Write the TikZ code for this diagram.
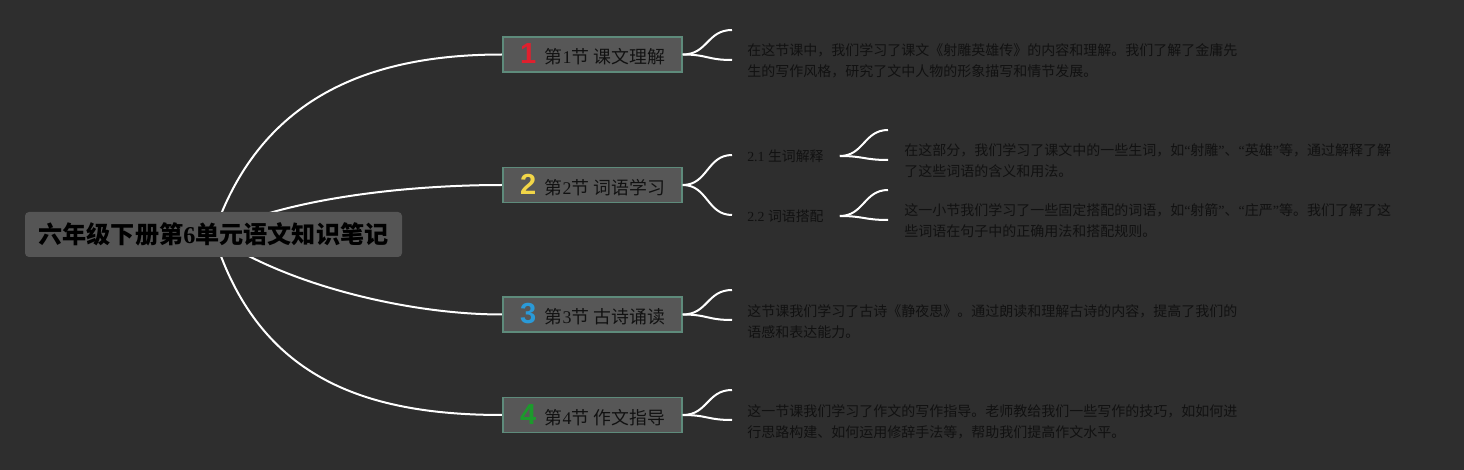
\documentclass[tikz,border=0pt]{standalone}
\usepackage{fontspec}
\setmainfont{Liberation Serif}
\newfontfamily\cjk{Noto Sans CJK SC}
\newfontfamily\numfont{Liberation Sans}
\definecolor{bgc}{HTML}{2E2E2E}
\definecolor{boxfill}{HTML}{575757}
\definecolor{boxedge}{HTML}{5E8B7B}
\definecolor{rootfill}{HTML}{555555}
\definecolor{txt}{HTML}{111111}
\definecolor{nred}{HTML}{E0202E}
\definecolor{nyellow}{HTML}{F2D648}
\definecolor{nblue}{HTML}{2A9AD8}
\definecolor{ngreen}{HTML}{1C9A2C}
\pgfdeclarelayer{back}
\pgfsetlayers{back,main}
\tikzset{
  rootbox/.style={fill=rootfill, rounded corners=3pt, minimum width=282.75pt, minimum height=33.75pt, inner sep=0pt, text=black, font=\fontsize{18.1}{22}\selectfont\bfseries},
  secbox/.style={fill=boxfill, draw=boxedge, line width=1.1pt, minimum width=134.25pt, minimum height=26.25pt, inner sep=0pt, text=txt, font=\fontsize{13.4}{15}\selectfont},
  desc/.style={anchor=west, inner sep=0pt, align=left, text=txt, font=\cjk\fontsize{10.5}{15.75}\selectfont},
  sublab/.style={anchor=west, inner sep=0pt, text=txt, font=\fontsize{10.4}{13}\selectfont},
  conn/.style={draw=white, line width=1.5pt},
}
\newcommand{\bignum}[2]{{\numfont\bfseries\fontsize{21.75}{22}\selectfont\color{#1}#2}\hspace{6.5pt}}
\newcommand{\oq}{{\rmfamily “}}
\newcommand{\cq}{{\rmfamily ”}}
\begin{document}
\begin{tikzpicture}[x=0.75pt,y=-0.75pt]
\begin{pgfonlayer}{back}
\fill[bgc] (0,0) rectangle (1464,470);
\end{pgfonlayer}
\useasboundingbox (0,0) rectangle (1464,470);

% root
\node[rootbox] (root) at (213.5,234.5) {{\cjk\bfseries 六年级下册第}6{\cjk\bfseries 单元语文知识笔记}};

% sections
\node[secbox] (s1) at (592.5,54.5) {\bignum{nred}{1}{\cjk 第}1{\cjk 节 课文理解}};
\node[secbox] (s2) at (592.5,185) {\bignum{nyellow}{2}{\cjk 第}2{\cjk 节 词语学习}};
\node[secbox] (s3) at (592.5,314.5) {\bignum{nblue}{3}{\cjk 第}3{\cjk 节 古诗诵读}};
\node[secbox] (s4) at (592.5,415) {\bignum{ngreen}{4}{\cjk 第}4{\cjk 节 作文指导}};

% descriptions
\node[desc] (d1) at (747,60.5) {在这节课中，我们学习了课文《射雕英雄传》的内容和理解。我们了解了金庸先\\生的写作风格，研究了文中人物的形象描写和情节发展。};
\node[sublab] (sub1) at (747,156) {2.1 {\cjk 生词解释}};
\node[sublab] (sub2) at (747,216) {2.2 {\cjk 词语搭配}};
\node[desc] (d21) at (904,161) {在这部分，我们学习了课文中的一些生词，如\oq 射雕\cq、\oq 英雄\cq 等，通过解释了解\\了这些词语的含义和用法。};
\node[desc] (d22) at (904,221) {这一小节我们学习了一些固定搭配的词语，如\oq 射箭\cq、\oq 庄严\cq 等。我们了解了这\\些词语在句子中的正确用法和搭配规则。};
\node[desc] (d3) at (747,321.5) {这节课我们学习了古诗《静夜思》。通过朗读和理解古诗的内容，提高了我们的\\语感和表达能力。};
\node[desc] (d4) at (747,421.5) {这一节课我们学习了作文的写作指导。老师教给我们一些写作的技巧，如如何进\\行思路构建、如何运用修辞手法等，帮助我们提高作文水平。};

% fork ends
\coordinate (e1a) at (732,30);
\coordinate (e1b) at (732,60);
\coordinate (e2a) at (732,155);
\coordinate (e2b) at (732,215);
\coordinate (e21a) at (888,130);
\coordinate (e21b) at (888,160);
\coordinate (e22a) at (888,190);
\coordinate (e22b) at (888,220);
\coordinate (e3a) at (732,290);
\coordinate (e3b) at (732,320);
\coordinate (e4a) at (732,390);
\coordinate (e4b) at (732,420);

\begin{pgfonlayer}{back}
\draw[conn] (root.center) .. controls (262,90) and (380,54.5) .. (s1.west);
\draw[conn] (root.center) .. controls (280,200) and (400,185) .. (s2.west);
\draw[conn] (root.center) .. controls (275,280) and (400,314.5) .. (s3.west);
\draw[conn] (root.center) .. controls (257,375) and (360,415) .. (s4.west);
\end{pgfonlayer}

\draw[conn] (s1.east) .. controls +(25,0) and +(-25,0) .. (e1a);
\draw[conn] (s1.east) .. controls +(25,0) and +(-25,0) .. (e1b);
\draw[conn] (s2.east) .. controls +(25,0) and +(-25,0) .. (e2a);
\draw[conn] (s2.east) .. controls +(25,0) and +(-25,0) .. (e2b);
\draw[conn] ([xshift=12pt]sub1.east) .. controls +(24,0) and +(-24,0) .. (e21a);
\draw[conn] ([xshift=12pt]sub1.east) .. controls +(24,0) and +(-24,0) .. (e21b);
\draw[conn] ([xshift=12pt]sub2.east) .. controls +(24,0) and +(-24,0) .. (e22a);
\draw[conn] ([xshift=12pt]sub2.east) .. controls +(24,0) and +(-24,0) .. (e22b);
\draw[conn] (s3.east) .. controls +(25,0) and +(-25,0) .. (e3a);
\draw[conn] (s3.east) .. controls +(25,0) and +(-25,0) .. (e3b);
\draw[conn] (s4.east) .. controls +(25,0) and +(-25,0) .. (e4a);
\draw[conn] (s4.east) .. controls +(25,0) and +(-25,0) .. (e4b);
\end{tikzpicture}
\end{document}
